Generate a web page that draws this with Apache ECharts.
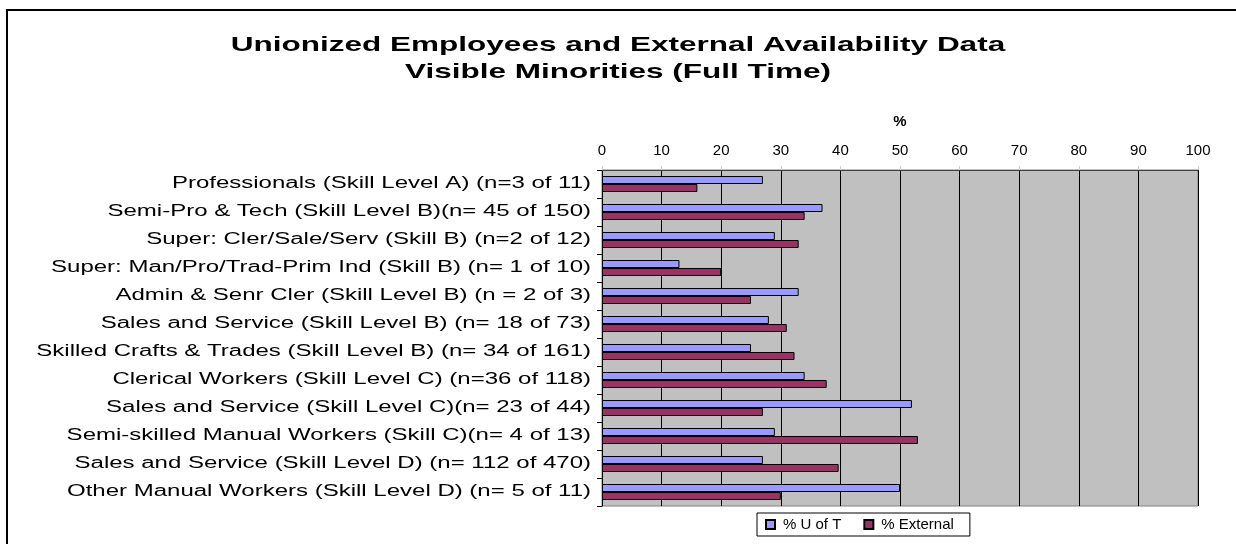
<!DOCTYPE html>
<html><head><meta charset="utf-8">
<script src="https://cdn.jsdelivr.net/npm/echarts@6/dist/echarts.min.js"></script>
<style>html,body{margin:0;padding:0;background:#fff}#c{width:1236px;height:544px}</style>
</head><body><div id="c"></div>
<script>
const categories = [
  "Professionals (Skill Level A) (n=3 of 11)",
  "Semi-Pro & Tech (Skill Level B)(n= 45 of 150)",
  "Super: Cler/Sale/Serv (Skill B) (n=2 of 12)",
  "Super: Man/Pro/Trad-Prim Ind (Skill B) (n= 1 of 10)",
  "Admin & Senr Cler (Skill Level B) (n = 2 of 3)",
  "Sales and Service (Skill Level B) (n= 18 of 73)",
  "Skilled Crafts & Trades (Skill Level B) (n= 34 of 161)",
  "Clerical Workers (Skill Level C) (n=36 of 118)",
  "Sales and Service (Skill Level C)(n= 23 of 44)",
  "Semi-skilled Manual Workers (Skill C)(n= 4 of 13)",
  "Sales and Service (Skill Level D) (n= 112 of 470)",
  "Other Manual Workers (Skill Level D) (n= 5 of 11)"
];
const uOfT = [27, 37, 29, 13, 33, 28, 25, 34, 52, 29, 27, 50];
const external = [16, 34, 33, 20, 25, 31, 32.3, 37.7, 27, 53, 39.7, 30];
const seriesNames = ["% U of T", "% External"];
const titleLines = ["Unionized Employees and External Availability Data", "Visible Minorities (Full Time)"];
const axisName = "%";

const font = "Liberation Sans, Arial, sans-serif";
const chart = echarts.init(document.getElementById('c'));
chart.setOption({
  animation: false,
  legend: {
    data: seriesNames, left: 757, top: 513, orient: 'horizontal',
    icon: 'rect', itemWidth: 9, itemHeight: 9, itemGap: 22,
    borderColor: '#000', borderWidth: 1, padding: [4, 16, 4, 8], backgroundColor: '#fff',
    textStyle: {fontFamily: font, fontSize: 15, color: '#000', padding: [0, 0, 0, 3]}
  },
  grid: {left: 602, right: 38, top: 170, bottom: 38, show: true, backgroundColor: '#C0C0C0', borderColor: '#808080', borderWidth: 1},
  xAxis: {
    type: 'value', position: 'top', min: 0, max: 100, interval: 10,
    name: axisName, nameLocation: 'middle', nameGap: 41,
    nameTextStyle: {fontFamily: font, fontWeight: 'bold', fontSize: 15, color: '#000'},
    axisLine: {show: true, lineStyle: {color: '#404040'}},
    axisTick: {show: true, length: 4, lineStyle: {color: '#ccc'}},
    axisLabel: {fontFamily: font, fontSize: 15, color: '#000', margin: 12},
    splitLine: {show: true, lineStyle: {color: '#000', width: 1}}
  },
  yAxis: {
    type: 'category', data: categories, inverse: true,
    axisLine: {show: true, lineStyle: {color: '#000'}},
    axisTick: {show: true, length: 5, lineStyle: {color: '#000'}},
    axisLabel: {show: false}
  },
  series: [
    {name: seriesNames[0], type: 'bar', data: uOfT, barWidth: 8, barGap: '0%',
     itemStyle: {color: '#9999FF', borderColor: '#000', borderWidth: 1}},
    {name: seriesNames[1], type: 'bar', data: external, barWidth: 8, barGap: '0%',
     itemStyle: {color: '#993366', borderColor: '#000', borderWidth: 1}}
  ]
});

// Text in the reference is horizontally stretched (1.5x); draw it as scaled text elements.
const graphics = [{type: 'rect', shape: {x: 7, y: 10, width: 1240, height: 540},
  style: {fill: 'none', stroke: '#000', lineWidth: 2}, z: 100, silent: true}];
titleLines.forEach((t, i) => {
  graphics.push({type: 'text', x: 618, y: 45 + i * 27, scaleX: 1.5, z: 50,
    style: {text: t, x: 0, y: 0, align: 'center', verticalAlign: 'middle',
      font: 'bold 21px ' + font, fill: '#000'}});
});
const labelX = chart.convertToPixel({xAxisIndex: 0}, 0) - 11;
categories.forEach(c => {
  const y = chart.convertToPixel({yAxisIndex: 0}, c);
  graphics.push({type: 'text', x: labelX, y: y, scaleX: 1.5, z: 50,
    style: {text: c, x: 0, y: 0, align: 'right', verticalAlign: 'middle',
      font: '16px ' + font, fill: '#000'}});
});
chart.setOption({graphic: graphics});
</script></body></html>
